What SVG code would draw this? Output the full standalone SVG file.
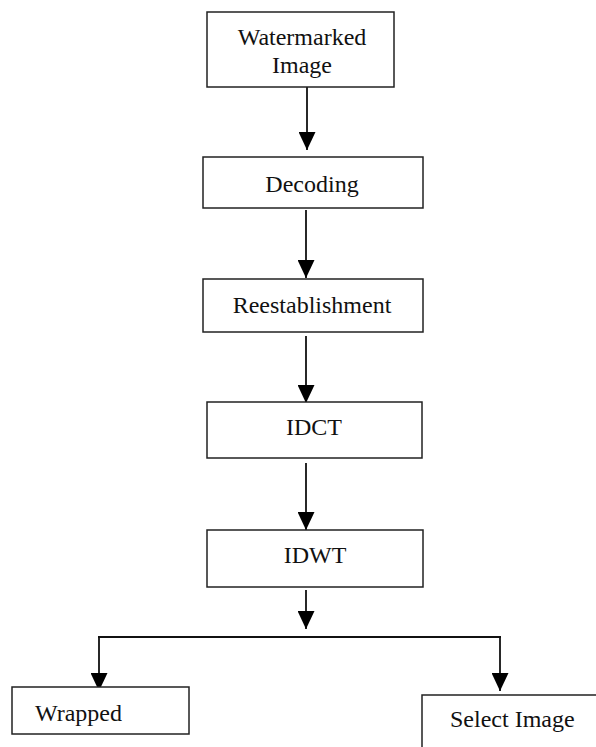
<svg xmlns="http://www.w3.org/2000/svg" width="596" height="747" viewBox="0 0 596 747">
<defs>
<marker id="ah" viewBox="0 0 18 17" refX="18" refY="8.5" markerWidth="18" markerHeight="17" markerUnits="userSpaceOnUse" orient="auto">
<path d="M0,0 L18,8.5 L0,17 z" fill="#000"/>
</marker>
<style>
.box{fill:#fff;stroke:#222;stroke-width:1.5}
text{font-size:24px;fill:#111}
.c{text-anchor:middle}
.conn{stroke:#111;stroke-width:1.8;fill:none}
</style>
</defs>
<rect width="596" height="747" fill="#fff"/>
<g id="connectors">
<line class="conn" x1="307" y1="87" x2="307" y2="150" marker-end="url(#ah)"/>
<line class="conn" x1="306" y1="210" x2="306" y2="278" marker-end="url(#ah)"/>
<line class="conn" x1="306" y1="336" x2="306" y2="403" marker-end="url(#ah)"/>
<line class="conn" x1="306" y1="463" x2="306" y2="530" marker-end="url(#ah)"/>
<line class="conn" x1="306" y1="590" x2="306" y2="629" marker-end="url(#ah)"/>
<line class="conn" x1="98" y1="637" x2="501" y2="637"/>
<line class="conn" x1="99" y1="637" x2="99" y2="691" marker-end="url(#ah)"/>
<line class="conn" x1="500" y1="637" x2="500" y2="691" marker-end="url(#ah)"/>
</g>
<g font-family="'Liberation Serif', 'Times New Roman', 'DejaVu Serif', serif">
<g id="n1">
<rect class="box" x="207" y="12" width="187" height="75"/>
<text class="c" x="302" y="45">Watermarked</text>
<text class="c" x="302" y="73">Image</text>
</g>
<g id="n2">
<rect class="box" x="203" y="157" width="220" height="51"/>
<text class="c" x="312" y="192">Decoding</text>
</g>
<g id="n3">
<rect class="box" x="203" y="279" width="220" height="53"/>
<text class="c" x="312" y="313">Reestablishment</text>
</g>
<g id="n4">
<rect class="box" x="207" y="402" width="215" height="56"/>
<text class="c" x="314" y="435">IDCT</text>
</g>
<g id="n5">
<rect class="box" x="207" y="530" width="216" height="57"/>
<text class="c" x="315" y="563">IDWT</text>
</g>
<g id="n6">
<rect class="box" x="12" y="687" width="177" height="47"/>
<text x="35" y="721">Wrapped</text>
</g>
<g id="n7">
<rect class="box" x="422" y="695" width="190" height="70"/>
<text x="450" y="727">Select Image</text>
</g>
</g>
</svg>
